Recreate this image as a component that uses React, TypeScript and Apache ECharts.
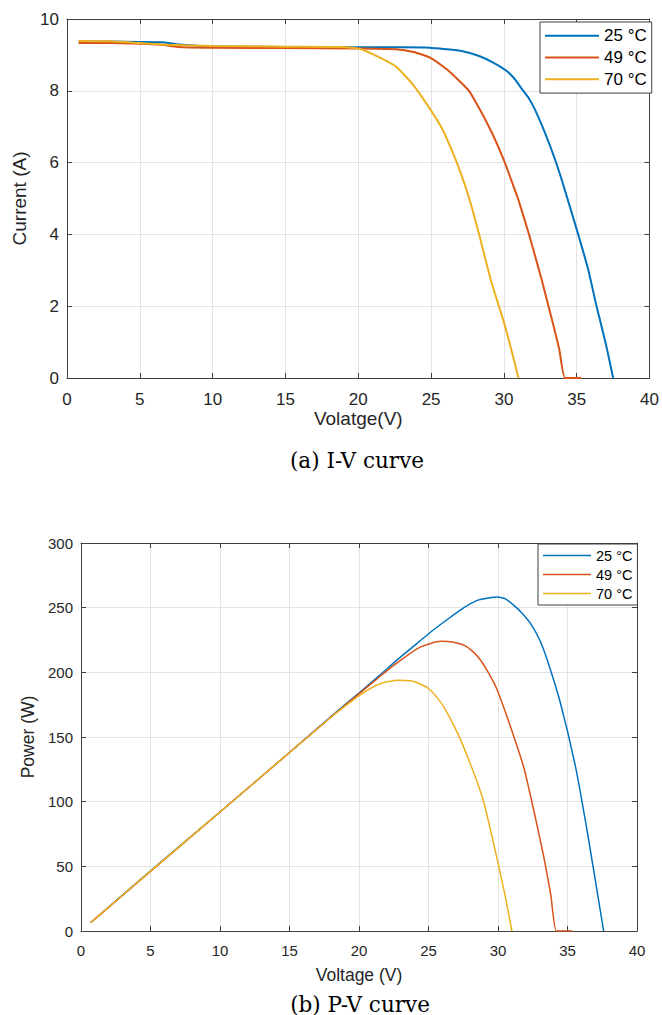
import React, { useEffect, useRef } from "react";
import * as echarts from "echarts";

// Module temperatures shown in both panels
const tempLabels = ["25 °C", "49 °C", "70 °C"];
const lineColors = ["#0072BD", "#D95319", "#EDB120"];

// I-V curves: voltage (V) and current (A)
const ivVoltage25 = [0.8, 3, 5, 6.5, 7.5, 10, 15, 20, 23, 24.9, 26, 27.1, 28.3, 29.2, 30.1, 30.7, 31.2, 31.7, 32.15, 32.8, 33.5, 34.1, 35.1, 35.8, 36.36, 37, 37.5];
const ivCurrent25 = [9.38, 9.37, 9.36, 9.35, 9.3, 9.24, 9.22, 9.21, 9.21, 9.2, 9.16, 9.11, 8.97, 8.8, 8.58, 8.35, 8.07, 7.8, 7.46, 6.85, 6.1, 5.35, 4.0, 3.0, 2.0, 0.95, 0];

const ivVoltage49 = [0.8, 3, 5, 6.5, 7.6, 10, 15, 20, 22.6, 23.8, 24.9, 26.0, 26.8, 27.6, 28.5, 29.2, 30.0, 30.5, 31.0, 31.7, 32.6, 33.3, 33.8, 34.2, 35.3];
const ivCurrent49 = [9.33, 9.33, 9.31, 9.28, 9.22, 9.2, 9.19, 9.18, 9.16, 9.08, 8.93, 8.62, 8.33, 8.0, 7.37, 6.81, 6.07, 5.52, 4.96, 4.03, 2.73, 1.62, 0.8, 0, 0];

const ivVoltage70 = [0.8, 3, 5, 7, 10, 15, 19, 20.1, 21.45, 22.6, 23.7, 24.9, 25.8, 26.7, 27.3, 27.8, 28.3, 29.1, 30.0, 30.5, 31.0];
const ivCurrent70 = [9.39, 9.38, 9.33, 9.28, 9.25, 9.23, 9.22, 9.17, 8.93, 8.67, 8.2, 7.51, 6.91, 6.07, 5.4, 4.75, 4.0, 2.73, 1.55, 0.8, 0];

// P-V curves: voltage (V) and power (W)
const pvVoltage25 = [0.7, 5, 10, 15, 18, 20, 21.5, 22.76, 24.2, 25.16, 26.5, 27.55, 28.5, 29.3, 30, 30.5, 31.15, 31.8, 32.35, 33, 33.55, 34.5, 35.6, 36.4, 37.27, 37.6];
const pvPower25 = [6.6, 46.5, 92, 138, 166, 184, 197.8, 209.8, 222.6, 231.2, 242, 250, 255.6, 257.5, 258.2, 257, 251.8, 245, 237.6, 225, 209.3, 175.9, 125.8, 78.2, 21.6, 0];

const pvVoltage49 = [0.7, 5, 10, 15, 18, 20, 21.5, 22.76, 24.2, 25.2, 25.9, 26.7, 27.55, 28.2, 28.75, 29.4, 29.95, 30.9, 31.87, 32.6, 33.3, 33.8, 34.2, 35.35];
const pvPower49 = [6.5, 46, 92, 138, 165.5, 183.3, 196.8, 207.5, 218.4, 222.5, 224, 223.5, 221, 216, 209.3, 198, 186.2, 157.9, 125.8, 92, 57, 28, 0, 0];

const pvVoltage70 = [0.7, 5, 10, 15, 18, 19.5, 20.5, 21.56, 22.76, 23.7, 24.4, 25.0, 25.5, 26.1, 27.1, 28.16, 29.0, 29.95, 30.5, 31.0];
const pvPower70 = [6.6, 46.3, 92, 138, 165.5, 178, 185.5, 191.4, 193.9, 193.5, 191, 187.5, 182, 173.3, 152.8, 125, 98.8, 55, 28, 0];

const ivSets = [
  [ivVoltage25, ivCurrent25],
  [ivVoltage49, ivCurrent49],
  [ivVoltage70, ivCurrent70],
];
const pvSets = [
  [pvVoltage25, pvPower25],
  [pvVoltage49, pvPower49],
  [pvVoltage70, pvPower70],
];

const FONT = '"Liberation Sans", Arial, Helvetica, sans-serif';
const SERIF = '"DejaVu Serif", serif';
const AXIS = "#404040";
const TEXT = "#262626";
const GRIDLINE = "#e3e3e3";

const zip = (xs: number[], ys: number[]) => xs.map((x, i) => [x, ys[i]]);

function boxAxis(gridIndex: number, position: string, min: number, max: number, interval: number) {
  return {
    gridIndex,
    type: "value",
    position,
    min,
    max,
    interval,
    axisLine: { show: true, onZero: false, lineStyle: { color: AXIS, width: 1 } },
    axisTick: { show: true, inside: true, length: 5, lineStyle: { color: AXIS } },
    axisLabel: { show: false },
    splitLine: { show: false },
  };
}

function mainAxis(
  gridIndex: number,
  position: string,
  min: number,
  max: number,
  interval: number,
  name: string,
  nameSize: number,
  nameGap: number,
  labelSize: number,
  labelMargin: number
) {
  return {
    ...boxAxis(gridIndex, position, min, max, interval),
    name,
    nameLocation: "middle",
    nameGap,
    nameTextStyle: { fontSize: nameSize, color: TEXT, fontFamily: FONT },
    axisLabel: { show: true, fontSize: labelSize, color: TEXT, fontFamily: FONT, margin: labelMargin },
    splitLine: { show: true, lineStyle: { color: GRIDLINE, width: 1 } },
  };
}

function curve(name: string, color: string, v: number[], y: number[], axis: number, width: number, z: number) {
  return {
    type: "line",
    name,
    xAxisIndex: axis,
    yAxisIndex: axis,
    data: zip(v, y),
    symbol: "none",
    showSymbol: false,
    smooth: 0.15,
    lineStyle: { width, color },
    itemStyle: { color },
    z,
  };
}

export default function App() {
  const ref = useRef<HTMLDivElement>(null);

  useEffect(() => {
    if (!ref.current) return;
    const chart = echarts.init(ref.current, null, { renderer: "svg" });

    const series: any[] = [];
    ivSets.forEach(([v, i], k) => series.push(curve(tempLabels[k], lineColors[k], v, i, 0, 2, 2 + k)));
    pvSets.forEach(([v, p], k) => series.push(curve(tempLabels[k], lineColors[k], v, p, 2, 1.5, 2 + k)));

    chart.setOption({
      animation: false,
      backgroundColor: "#ffffff",
      grid: [
        { left: 67, top: 19, width: 586, height: 359 },
        { left: 81, top: 543, width: 556, height: 388 },
      ],
      xAxis: [
        mainAxis(0, "bottom", 0, 40, 5, "Volatge(V)", 19, 30, 17, 13),
        boxAxis(0, "top", 0, 40, 5),
        mainAxis(1, "bottom", 0, 40, 5, "Voltage (V)", 17.5, 35, 15, 11.5),
        boxAxis(1, "top", 0, 40, 5),
      ],
      yAxis: [
        mainAxis(0, "left", 0, 10, 2, "Current (A)", 19, 34, 17, 8),
        boxAxis(0, "right", 0, 10, 2),
        mainAxis(1, "left", 0, 300, 50, "Power (W)", 17.5, 38.5, 15, 8),
        boxAxis(1, "right", 0, 300, 50),
      ],
      legend: [
        {
          data: tempLabels,
          orient: "vertical",
          left: 540,
          top: 22,
          padding: [3, 5, 3, 5],
          itemGap: 0,
          itemWidth: 54,
          itemHeight: 2,
          icon: "rect",
          backgroundColor: "#ffffff",
          borderColor: AXIS,
          borderWidth: 1,
          borderRadius: 0,
          selectedMode: false,
          textStyle: { fontSize: 17, color: "#000", fontFamily: FONT, lineHeight: 21.7 },
        },
        {
          data: tempLabels,
          orient: "vertical",
          left: 538,
          top: 544,
          padding: [2, 5, 2, 5],
          itemGap: 0,
          itemWidth: 48,
          itemHeight: 1.5,
          icon: "rect",
          backgroundColor: "#ffffff",
          borderColor: AXIS,
          borderWidth: 1,
          borderRadius: 0,
          selectedMode: false,
          textStyle: { fontSize: 14.5, color: "#000", fontFamily: FONT, lineHeight: 19 },
        },
      ],
      graphic: [
        {
          type: "text",
          x: 357,
          y: 460,
          style: {
            text: "(a) I-V curve",
            fontSize: 21.5,
            fontFamily: SERIF,
            fill: "#000",
            align: "center",
            verticalAlign: "middle",
          },
        },
        {
          type: "text",
          x: 360,
          y: 1004,
          style: {
            text: "(b) P-V curve",
            fontSize: 21.5,
            fontFamily: SERIF,
            fill: "#000",
            align: "center",
            verticalAlign: "middle",
          },
        },
      ],
      series,
    });

    return () => chart.dispose();
  }, []);

  return (
    <div
      ref={ref}
      style={{ position: "absolute", left: 0, top: 0, width: 662, height: 1015, background: "#fff" }}
    />
  );
}
